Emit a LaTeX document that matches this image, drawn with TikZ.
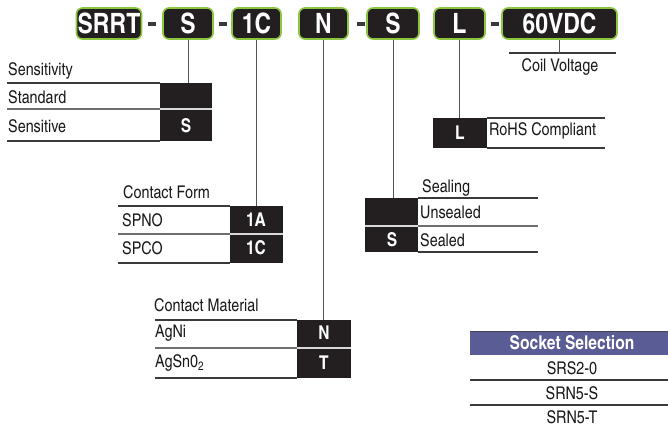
\documentclass[tikz,border=0pt]{standalone}
\usepackage{fontspec}
\setmainfont{texgyreheroscn-regular.otf}[BoldFont=texgyreheroscn-bold.otf]
\definecolor{boxblack}{HTML}{231F20}
\definecolor{boxgreen}{HTML}{8CC63F}
\definecolor{rule}{HTML}{3A3A3A}
\definecolor{midrule}{HTML}{6E6E6E}
\definecolor{stemcol}{HTML}{555555}
\definecolor{socket}{HTML}{5A5C96}
\tikzset{
  topbox/.style={draw=boxgreen, line width=1.6pt, fill=boxblack, rounded corners=6pt,
    text=white, font=\fontsize{28}{28}\selectfont\bfseries, inner sep=0pt,
    minimum height=31pt},
  dashmark/.style={fill=rule, draw=none, minimum width=8pt, minimum height=3.5pt, inner sep=0pt},
  lbl/.style={anchor=west, font=\fontsize{17.5}{17.5}\selectfont, inner sep=0pt, text=black!90},
  clbl/.style={font=\fontsize{17.5}{17.5}\selectfont, inner sep=0pt, text=black!90},
  code/.style={text=white, font=\fontsize{19}{19}\selectfont\bfseries, inner sep=0pt},
  codebox/.style={fill=boxblack, draw=none},
  darkline/.style={draw=rule, line width=1.4pt},
  greyline/.style={draw=midrule, line width=1.4pt},
  boxsplit/.style={draw=white!85!black, line width=1.2pt},
  stem/.style={draw=stemcol, line width=1pt},
}
\begin{document}
\begin{tikzpicture}[x=1pt,y=-1pt]
\useasboundingbox (0,0) rectangle (668,427);

% ---- top code boxes ----
\node[topbox, minimum width=65pt] (srrt) at (109,23.5) {SRRT};
\node[dashmark] (d1) at (151.5,24) {};
\node[topbox, minimum width=50pt] (bs) at (188,23.5) {S};
\node[dashmark] (d2) at (222.5,24) {};
\node[topbox, minimum width=49pt] (bc) at (256.5,23.5) {1C};
\node[topbox, minimum width=49pt] (bn) at (323.5,23.5) {N};
\node[dashmark] (d3) at (360.5,24) {};
\node[topbox, minimum width=52pt] (bseal) at (393,23.5) {S};
\node[topbox, minimum width=51pt] (bl) at (459.5,23.5) {L};
\node[dashmark] (d4) at (494.5,24) {};
\node[topbox, minimum width=115pt] (bv) at (559.5,23.5) {60VDC};

% ---- Sensitivity ----
\node[codebox, minimum width=52pt, minimum height=58pt, inner sep=0pt] (senbox) at (186,112) {};
\node[lbl] (sentitle) at (8,71) {Sensitivity};
\node[lbl] (senstd) at (8,97) {Standard};
\node[lbl] (sensens) at (8,126) {Sensitive};
\node[code] (sencode) at (186,126) {S};
\coordinate (sen1) at (7,83);
\coordinate (sen2) at (7,109);
\coordinate (sen3) at (7,141);
\draw[darkline] (sen1) -- (sen1 -| senbox.west);
\draw[greyline] (sen2) -- (sen2 -| senbox.west);
\draw[darkline] (sen3) -- (sen3 -| senbox.west);
\draw[boxsplit] (sen2 -| senbox.west) -- (sen2 -| senbox.east);
\draw[stem] (bs.south) -- (bs.south |- senbox.north);

% ---- Contact Form ----
\node[codebox, minimum width=53pt, minimum height=57pt, inner sep=0pt] (cfbox) at (256.5,234.5) {};
\node[lbl] (cftitle) at (123,192) {Contact Form};
\node[lbl] (cfno) at (122,220) {SPNO};
\node[lbl] (cfco) at (122,248) {SPCO};
\node[code] (cfa) at (256,220) {1A};
\node[code] (cfc) at (256,248) {1C};
\coordinate (cf1) at (118,206);
\coordinate (cf2) at (118,234);
\coordinate (cf3) at (118,263);
\draw[darkline] (cf1) -- (cf1 -| cfbox.west);
\draw[greyline] (cf2) -- (cf2 -| cfbox.west);
\draw[darkline] (cf3) -- (cf3 -| cfbox.west);
\draw[boxsplit] (cf2 -| cfbox.west) -- (cf2 -| cfbox.east);
\draw[stem] (bc.south) -- (bc.south |- cfbox.north);

% ---- Contact Material ----
\node[codebox, minimum width=54pt, minimum height=58pt, inner sep=0pt] (cmbox) at (324,349) {};
\node[lbl] (cmtitle) at (154,305) {Contact Material};
\node[lbl] (cmni) at (155,333) {AgNi};
\node[lbl] (cmsn) at (155,363) {AgSn0\textsubscript{2}};
\node[code] (cmn) at (324,333) {N};
\node[code] (cmt) at (324,363) {T};
\coordinate (cm1) at (155,320);
\coordinate (cm2) at (155,348);
\coordinate (cm3) at (155,378);
\draw[darkline] (cm1) -- (cm1 -| cmbox.west);
\draw[greyline] (cm2) -- (cm2 -| cmbox.west);
\draw[darkline] (cm3) -- (cm3 -| cmbox.west);
\draw[boxsplit] (cm2 -| cmbox.west) -- (cm2 -| cmbox.east);
\draw[stem] (bn.south) -- (bn.south |- cmbox.north);

% ---- Sealing ----
\node[codebox, minimum width=53pt, minimum height=54pt, inner sep=0pt] (slbox) at (391.5,225) {};
\node[lbl] (sltitle) at (422,188) {Sealing};
\node[lbl] (slun) at (420,212) {Unsealed};
\node[lbl] (slse) at (420,240) {Sealed};
\node[code] (slcode) at (392,240) {S};
\coordinate (sl1) at (538,198);
\coordinate (sl2) at (538,226);
\coordinate (sl3) at (538,252);
\draw[darkline] (sl1 -| slbox.east) -- (sl1);
\draw[greyline] (sl2 -| slbox.east) -- (sl2);
\draw[darkline] (sl3 -| slbox.east) -- (sl3);
\draw[boxsplit] (sl2 -| slbox.west) -- (sl2 -| slbox.east);
\draw[stem] (bseal.south) -- (bseal.south |- slbox.north);

% ---- RoHS ----
\node[codebox, minimum width=54pt, minimum height=30pt, inner sep=0pt] (rhbox) at (460,133) {};
\node[code] (rhcode) at (460,133) {L};
\node[lbl] (rhtext) at (489,131) {RoHS Compliant};
\coordinate (rh1) at (605,118);
\coordinate (rh2) at (605,148);
\draw[darkline] (rh1 -| rhbox.east) -- (rh1);
\draw[darkline] (rh2 -| rhbox.east) -- (rh2);
\draw[stem] (bl.south) -- (bl.south |- rhbox.north);

% ---- Coil Voltage ----
\coordinate (cvl) at (509,53);
\coordinate (cvr) at (616,53);
\draw[darkline] (cvl) -- (cvr);
\draw[stem] (bv.south) -- (bv.south |- cvl);
\node[clbl] (cvtext) at (560,67) {Coil Voltage};

% ---- Socket Selection ----
\fill[socket] (470,331) rectangle (668,355);
\draw[draw=rule!70!socket, line width=1pt] (470,331.5) -- (668,331.5);
\node[text=white, font=\fontsize{19}{19}\selectfont\bfseries, inner sep=0pt] (sockhead) at (572,343) {Socket Selection};
\node[clbl] (sock1) at (572,368) {SRS2-0};
\node[clbl] (sock2) at (572,393) {SRN5-S};
\node[clbl] (sock3) at (572,417) {SRN5-T};
\draw[darkline] (470,380) -- (668,380);
\draw[darkline] (470,405) -- (668,405);
\end{tikzpicture}
\end{document}
